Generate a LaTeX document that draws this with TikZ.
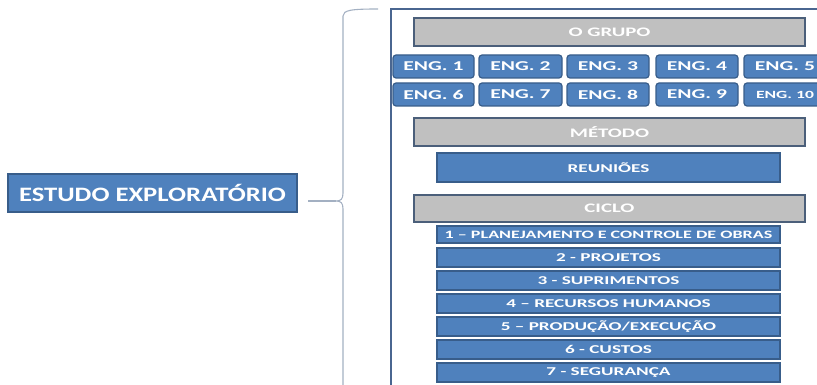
\documentclass[tikz,border=0pt]{standalone}
\usepackage{fontspec}
\setmainfont{Carlito}
\newfontfamily\wfont[FakeStretch=1.6]{Carlito}
\newfontfamily\efont[FakeStretch=1.3]{Carlito}
\definecolor{bluefill}{HTML}{4F81BD}
\definecolor{blueline}{HTML}{385D8A}
\definecolor{grayfill}{HTML}{C0C0C0}
\definecolor{grayline}{HTML}{4B5F7A}
\definecolor{frameline}{HTML}{4A6690}
\definecolor{braceline}{HTML}{A3B0C2}
\begin{document}
\begin{tikzpicture}[x=1pt,y=-1pt,
  base/.style={inner sep=0pt, text=white, line width=1.2pt},
  bluebox/.style={base, fill=bluefill, draw=blueline},
  graybox/.style={base, fill=grayfill, draw=grayline},
  engbox/.style={bluebox, rounded corners=3pt, minimum width=81pt, minimum height=23pt, font=\wfont\bfseries\fontsize{13.5}{13.5}\selectfont},
  headbox/.style={graybox, minimum width=391pt, minimum height=28pt, font=\wfont\bfseries\fontsize{13}{13}\selectfont},
  itembox/.style={bluebox, minimum width=343pt, minimum height=19pt, font=\wfont\bfseries\fontsize{12}{12}\selectfont},
]
\useasboundingbox (0,0) rectangle (817,385);
% frame
\draw[frameline, line width=1.6pt] (391,390) -- (391,9) -- (830,9);
% left node
\node[bluebox, minimum width=289pt, minimum height=38pt, font=\efont\bfseries\fontsize{20.5}{20.5}\selectfont] (estudo) at (152.5,193) {ESTUDO EXPLORATÓRIO};
% brace
\draw[braceline, line width=1.1pt] (378,9) .. controls (352,9) and (343,10) .. (343,16) -- (343,193) .. controls (343,199) and (341,201) .. (336,201) coordinate (tip) .. controls (341,201) and (343,203) .. (343,209) -- (343,390);
\coordinate (lstart) at (308,201);
\draw[braceline, line width=1.1pt] (lstart) -- (tip);
% O GRUPO
\node[headbox] (grupo) at (609.5,32) {O GRUPO};
% ENG boxes
\node[engbox] (e1) at (433.5,66.5) {ENG. 1};
\node[engbox, minimum width=83pt] (e2) at (520.5,66.5) {ENG. 2};
\node[engbox, minimum width=82pt] (e3) at (608,66.5) {ENG. 3};
\node[engbox, minimum width=82pt] (e4) at (697,66.5) {ENG. 4};
\node[engbox, minimum width=82pt] (e5) at (785,66.5) {ENG. 5};
\node[engbox] (e6) at (433.5,94.5) {ENG. 6};
\node[engbox, minimum width=83pt] (e7) at (520.5,94.5) {ENG. 7};
\node[engbox, minimum width=82pt] (e8) at (608,94.5) {ENG. 8};
\node[engbox, minimum width=82pt] (e9) at (697,94.5) {ENG. 9};
\node[engbox, minimum width=82pt, font=\wfont\bfseries\fontsize{11}{11}\selectfont] (e10) at (785,94.5) {ENG. 10};
% METODO
\node[headbox] (metodo) at (609.5,132) {MÉTODO};
\node[bluebox, minimum width=343pt, minimum height=29pt, font=\wfont\bfseries\fontsize{12}{12}\selectfont] (reunioes) at (608.5,167.5) {REUNIÕES};
% CICLO
\node[headbox, minimum height=27pt] (ciclo) at (609.5,208.5) {CICLO};
\node[itembox, minimum height=17pt, font=\wfont\bfseries\fontsize{11.3}{11.3}\selectfont] (c1) at (608.5,234.5) {1 – PLANEJAMENTO E CONTROLE DE OBRAS};
\node[itembox] (c2) at (608.5,257.5) {2 - PROJETOS};
\node[itembox] (c3) at (608.5,280.5) {3 - SUPRIMENTOS};
\node[itembox] (c4) at (608.5,303.5) {4 – RECURSOS HUMANOS};
\node[itembox] (c5) at (608.5,326.5) {5 – PRODUÇÃO/EXECUÇÃO};
\node[itembox] (c6) at (608.5,349.5) {6 - CUSTOS};
\node[itembox] (c7) at (608.5,372.5) {7 - SEGURANÇA};
\end{tikzpicture}
\end{document}
